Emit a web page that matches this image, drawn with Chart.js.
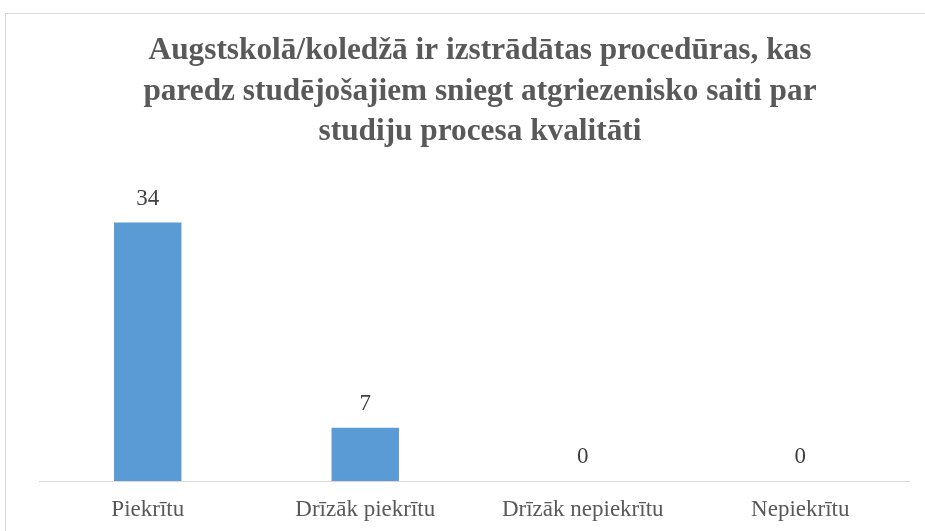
<!DOCTYPE html>
<html>
<head>
<meta charset="utf-8">
<script src="https://cdn.jsdelivr.net/npm/chart.js@4/dist/chart.umd.min.js"></script>
<style>
  html, body { margin: 0; padding: 0; background: #fff; }
  #wrap { width: 925px; height: 531px; }
</style>
</head>
<body>
<div id="wrap"><canvas id="chart"></canvas></div>
<script>
// dati
const categories = ['Piekrītu', 'Drīzāk piekrītu', 'Drīzāk nepiekrītu', 'Nepiekrītu'];
const values = [34, 7, 0, 0];
const titleLines = [
    'Augstskolā/koledžā ir izstrādātas procedūras, kas',
    'paredz studējošajiem sniegt atgriezenisko saiti par',
    'studiju procesa kvalitāti'
];

const serif = '"Liberation Serif", "Times New Roman", serif';

// rāmis ap diagrammu un virsraksts
const framePlugin = {
    id: 'frame',
    beforeDraw(chart) {
        const ctx = chart.ctx;
        ctx.save();
        ctx.fillStyle = '#fff';
        ctx.fillRect(0, 0, chart.width, chart.height);
        ctx.strokeStyle = '#d9d9d9';
        ctx.lineWidth = 1;
        ctx.strokeRect(5.5, 13.5, 940, 600);

        ctx.font = 'bold 31.3px ' + serif;
        ctx.fillStyle = '#595959';
        ctx.textAlign = 'center';
        ctx.textBaseline = 'middle';
        titleLines.forEach((line, i) => {
            ctx.fillText(line, 480, 51 + i * 40.5);
        });
        ctx.restore();
    }
};

// vērtību etiķetes virs stabiņiem
const labelPlugin = {
    id: 'barLabels',
    afterDatasetsDraw(chart) {
        const ctx = chart.ctx;
        const meta = chart.getDatasetMeta(0);
        ctx.save();
        ctx.font = '23px ' + serif;
        ctx.fillStyle = '#404040';
        ctx.textAlign = 'center';
        ctx.textBaseline = 'middle';
        meta.data.forEach((bar, i) => {
            ctx.fillText(String(values[i]), bar.x, bar.y - 24);
        });
        ctx.restore();
    }
};

const ctx = document.getElementById('chart').getContext('2d');
new Chart(ctx, {
    type: 'bar',
    data: {
        labels: categories,
        datasets: [{
            data: values,
            backgroundColor: '#5b9bd5',
            barPercentage: 0.31,
            categoryPercentage: 1
        }]
    },
    options: {
        responsive: true,
        maintainAspectRatio: false,
        animation: false,
        layout: { padding: { left: 39, right: 16, top: 177, bottom: 0 } },
        plugins: {
            legend: { display: false },
            tooltip: { enabled: false },
            title: { display: false }
        },
        scales: {
            x: {
                grid: { display: false, drawTicks: false },
                border: { display: true, color: '#d9d9d9', width: 1 },
                ticks: {
                    color: '#595959',
                    padding: 15,
                    maxRotation: 0,
                    font: { family: serif, size: 23 }
                },
                afterFit(scale) { scale.height = 50; }
            },
            y: {
                display: false,
                min: 0,
                max: 40
            }
        }
    },
    plugins: [framePlugin, labelPlugin]
});
</script>
</body>
</html>
